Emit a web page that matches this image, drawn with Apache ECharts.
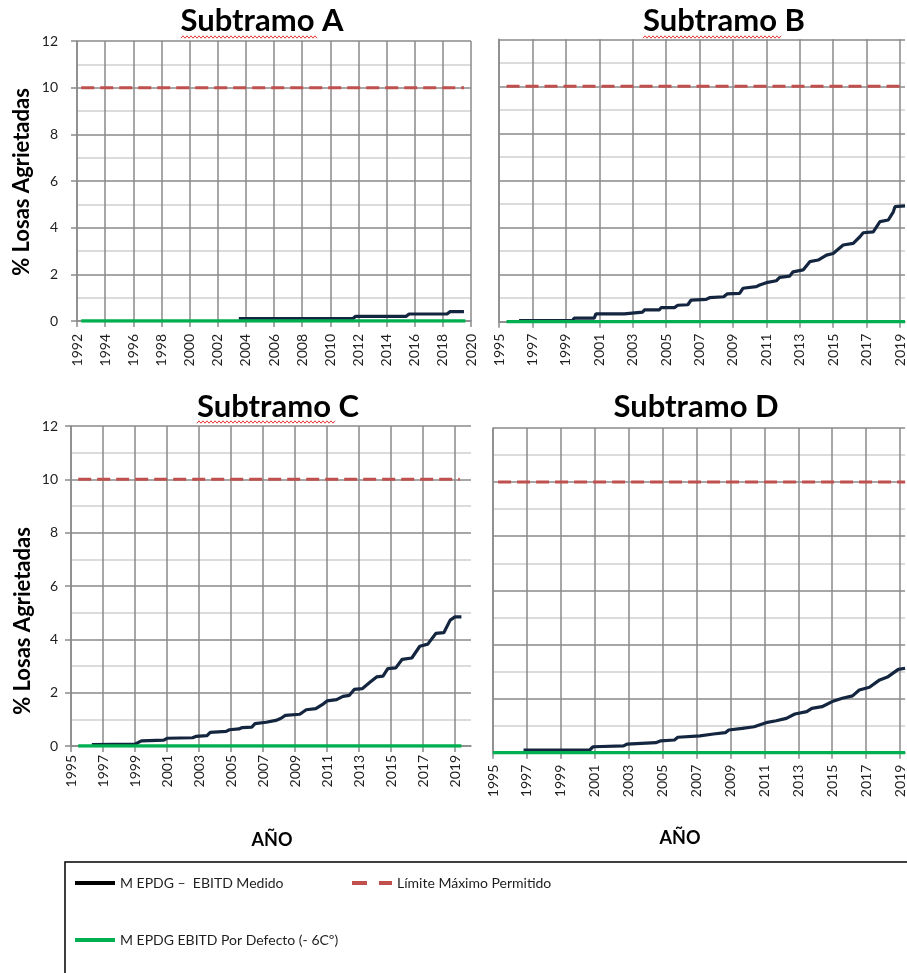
<!DOCTYPE html>
<html>
<head>
<meta charset="utf-8">
<script src="https://cdn.jsdelivr.net/npm/echarts@6/dist/echarts.min.js"></script>
<style>
  html, body { margin: 0; padding: 0; background: #ffffff; }
  #chart { width: 907px; height: 973px; }
</style>
</head>
<body>
<div id="chart"></div>
<script>
// ---- text ----
const panelTitles = ['Subtramo A', 'Subtramo B', 'Subtramo C', 'Subtramo D'];
const nameMedido = 'M EPDG –  EBITD Medido';
const nameDefecto = 'M EPDG EBITD Por Defecto (- 6Cº)';
const nameLimite = 'Límite Máximo Permitido';
const yAxisTitle = '% Losas Agrietadas';
const xAxisTitle = 'AÑO';

// ---- axis ranges (years / % of cracked slabs) ----
const yMin = 0, yMax = 12, yStep = 2;
const yearRangeA = [1992, 2020];
const yearRangeB = [1995, 2019.3];
const yearRangeC = [1995, 2020];
const yearRangeD = [1995, 2019.3];
const yearStep = 2;

// ---- reference levels ----
const limiteValue = 10;   // maximum allowed % of cracked slabs
const defectoValue = 0;   // default-input prediction stays at zero

// years covered by the flat reference lines in each panel
const defectoSpanA = [1992.3, 2019.6];
const limiteSpanA = [1992.3, 2019.5];
const defectoSpanB = [1995.45, 2019.3];
const limiteSpanB = [1995.45, 2019.3];
const defectoSpanC = [1995.45, 2019.4];
const limiteSpanC = [1995.45, 2019.3];
const defectoSpanD = [1995.0, 2019.3];
const limiteSpanD = [1995.3, 2019.3];

// ---- measured-input predictions: [year, % cracked slabs] ----
const medidoA = [
  [2003.5, 0.1], [2011.6, 0.1], [2011.8, 0.2], [2015.4, 0.2], [2015.6, 0.3],
  [2018.3, 0.3], [2018.5, 0.4], [2019.5, 0.4]
];
const medidoB = [
  [1996.2, 0.05], [1999.4, 0.05], [1999.5, 0.15], [2000.7, 0.15], [2000.8, 0.33],
  [2002.5, 0.33], [2002.6, 0.41], [2003.6, 0.41], [2003.7, 0.5], [2004.6, 0.5],
  [2004.7, 0.6], [2005.5, 0.6], [2005.7, 0.7], [2006.3, 0.72], [2006.5, 0.92],
  [2007.4, 0.95], [2007.6, 1.02], [2008.45, 1.06], [2008.65, 1.18], [2009.4, 1.2],
  [2009.6, 1.42], [2010.4, 1.49], [2010.6, 1.56], [2011.0, 1.66], [2011.6, 1.74],
  [2011.8, 1.88], [2012.4, 1.94], [2012.6, 2.12], [2013.2, 2.2], [2013.6, 2.55],
  [2014.1, 2.62], [2014.6, 2.83], [2015.0, 2.9], [2015.6, 3.26], [2016.2, 3.33],
  [2016.6, 3.61], [2016.8, 3.78], [2017.4, 3.82], [2017.8, 4.25], [2018.3, 4.32],
  [2018.6, 4.67], [2018.7, 4.89], [2019.3, 4.92]
];
const medidoC = [
  [1996.3, 0.05], [1999.0, 0.07], [1999.4, 0.19], [2000.8, 0.22], [2001.0, 0.29],
  [2002.6, 0.31], [2002.8, 0.36], [2003.5, 0.39], [2003.7, 0.51], [2004.7, 0.55],
  [2004.9, 0.61], [2005.5, 0.64], [2005.7, 0.69], [2006.3, 0.71], [2006.5, 0.84],
  [2007.2, 0.89], [2007.8, 0.96], [2008.1, 1.03], [2008.4, 1.15], [2009.3, 1.19],
  [2009.7, 1.36], [2010.3, 1.4], [2010.8, 1.59], [2011.0, 1.69], [2011.6, 1.74],
  [2012.0, 1.86], [2012.4, 1.9], [2012.7, 2.12], [2013.2, 2.15], [2013.7, 2.4],
  [2014.1, 2.59], [2014.5, 2.62], [2014.8, 2.9], [2015.3, 2.93], [2015.7, 3.25],
  [2016.3, 3.3], [2016.8, 3.74], [2017.3, 3.82], [2017.8, 4.22], [2018.3, 4.25],
  [2018.7, 4.72], [2019.0, 4.84], [2019.4, 4.84]
];
const medidoD = [
  [1996.8, 0.1], [2000.7, 0.1], [2000.9, 0.22], [2002.7, 0.25], [2002.9, 0.32],
  [2004.6, 0.37], [2004.9, 0.44], [2005.7, 0.47], [2005.9, 0.57], [2007.2, 0.62],
  [2008.0, 0.69], [2008.7, 0.74], [2008.9, 0.84], [2009.7, 0.9], [2010.4, 0.96],
  [2011.1, 1.11], [2011.7, 1.18], [2012.3, 1.27], [2012.8, 1.43], [2013.5, 1.52],
  [2013.8, 1.64], [2014.4, 1.7], [2015.0, 1.89], [2015.6, 2.01], [2016.2, 2.1],
  [2016.6, 2.32], [2017.2, 2.42], [2017.8, 2.69], [2018.3, 2.81], [2018.9, 3.08],
  [2019.3, 3.12]
];

// ---- styling ----
const FONT = 'Lato, "Open Sans", "Liberation Sans", sans-serif';
const colMedido = '#14263f';
const colDefecto = '#00b050';
const colLimite = '#c0504d';
const colMajor = '#8a8a8a';
const colMinor = '#cfcfcf';

const panels = [
  { grid: { left: 77, top: 41, width: 394, height: 280 }, years: yearRangeA, yLabels: true,
    xMargin: 13, yMargin: 19, medido: medidoA, defecto: defectoSpanA, limite: limiteSpanA },
  { grid: { left: 499, top: 39.3, width: 408, height: 282.4 }, years: yearRangeB, yLabels: false,
    xMargin: 12, yMargin: 12, medido: medidoB, defecto: defectoSpanB, limite: limiteSpanB },
  { grid: { left: 71, top: 426, width: 400, height: 320 }, years: yearRangeC, yLabels: true,
    xMargin: 9, yMargin: 13, medido: medidoC, defecto: defectoSpanC, limite: limiteSpanC },
  { grid: { left: 493, top: 428, width: 414, height: 324.7 }, years: yearRangeD, yLabels: false,
    xMargin: 12, yMargin: 12, medido: medidoD, defecto: defectoSpanD, limite: limiteSpanD }
];

const grids = [], xAxes = [], yAxes = [], series = [];
panels.forEach((p, i) => {
  grids.push(Object.assign({ containLabel: false }, p.grid));
  xAxes.push({
    type: 'value', gridIndex: i, min: p.years[0], max: p.years[1], interval: yearStep,
    axisLine: { show: true, onZero: false, lineStyle: { color: colMajor, width: 1.5 } },
    axisTick: { show: true, length: 6, lineStyle: { color: colMajor, width: 1.5 } },
    axisLabel: {
      rotate: 90, margin: p.xMargin, fontFamily: FONT, fontSize: 14, color: '#1e1e1e',
      showMaxLabel: p.years[1] % 1 === 0 && (p.years[1] - p.years[0]) % yearStep === 0,
      formatter: v => (Number.isInteger(v) ? String(v) : '')
    },
    splitLine: {
      show: true, showMinLine: true,
      showMaxLine: (p.years[1] - p.years[0]) % yearStep === 0,
      lineStyle: { color: colMajor, width: 1.5 }
    }
  });
  yAxes.push({
    type: 'value', gridIndex: i, min: yMin, max: yMax, interval: yStep,
    axisLine: { show: true, lineStyle: { color: colMajor, width: 1.5 } },
    axisTick: { show: p.yLabels, length: 6, lineStyle: { color: colMajor, width: 1.5 } },
    axisLabel: { show: p.yLabels, margin: p.yMargin, fontFamily: FONT, fontSize: 14, color: '#1e1e1e' },
    splitLine: { show: true, lineStyle: { color: colMajor, width: 1.5 } },
    minorTick: { show: false, splitNumber: 2 },
    minorSplitLine: { show: true, lineStyle: { color: colMinor, width: 1.5 } }
  });
  series.push({
    name: nameMedido, type: 'line', xAxisIndex: i, yAxisIndex: i,
    data: p.medido, showSymbol: false, symbol: 'none',
    lineStyle: { color: colMedido, width: 3.2 }, itemStyle: { color: colMedido }, z: 3
  });
  series.push({
    name: nameDefecto, type: 'line', xAxisIndex: i, yAxisIndex: i,
    data: p.defecto.map(x => [x, defectoValue]), showSymbol: false, symbol: 'none',
    lineStyle: { color: colDefecto, width: 3.5 }, itemStyle: { color: colDefecto }, z: 4
  });
  series.push({
    name: nameLimite, type: 'line', xAxisIndex: i, yAxisIndex: i,
    data: p.limite.map(x => [x, limiteValue]), showSymbol: false, symbol: 'none',
    lineStyle: { color: colLimite, width: 3, type: [13, 6] }, itemStyle: { color: colLimite }, z: 4
  });
});

// spell-check style wavy underline under a word
function squiggle(x0, x1, y) {
  const pts = [];
  for (let x = x0, k = 0; x <= x1; x += 2, k++) pts.push([x, y + (k % 2 ? -1.2 : 1.2)]);
  return { type: 'polyline', shape: { points: pts }, style: { stroke: '#e23a3a', lineWidth: 1, fill: null }, silent: true };
}

const titleFont = 'bold 31px ' + FONT;
const nameFont = 'bold 22px ' + FONT;
const txt = (x, y, text, font, rot) => ({
  type: 'text', x: x, y: y, rotation: rot || 0,
  style: { text: text, font: font, fill: '#000', align: 'center', verticalAlign: 'middle' }
});
const graphics = [
  txt(262, 21, panelTitles[0], titleFont),
  txt(724, 21, panelTitles[1], titleFont),
  txt(278, 407, panelTitles[2], titleFont),
  txt(696, 407, panelTitles[3], titleFont),
  squiggle(181, 318, 37), squiggle(643, 782, 37), squiggle(197, 335, 422),
  txt(22, 182, yAxisTitle, nameFont, Math.PI / 2),
  txt(23, 621, yAxisTitle, nameFont, Math.PI / 2),
  txt(272, 840, xAxisTitle, 'bold 18px ' + FONT),
  txt(680, 838, xAxisTitle, 'bold 18px ' + FONT),
  { type: 'rect', shape: { x: 65, y: 862, width: 900, height: 200 }, style: { fill: null, stroke: '#000', lineWidth: 1.5 }, silent: true }
];

const legendText = { fontFamily: FONT, fontSize: 14, color: '#1e1e1e' };
const solidIcon = 'path://M0,0H40V4H0Z';
const dashIcon = 'path://M0,0H15V4H0Z M27,0H40V4H27Z';
const legends = [
  { left: 75, top: 876, padding: 0, itemWidth: 40, itemHeight: 4, textStyle: legendText,
    data: [{ name: nameMedido, icon: solidIcon, itemStyle: { color: '#000' } }] },
  { left: 352, top: 876, padding: 0, itemWidth: 40, itemHeight: 4, textStyle: legendText,
    data: [{ name: nameLimite, icon: dashIcon, itemStyle: { color: colLimite } }] },
  { left: 75, top: 933, padding: 0, itemWidth: 40, itemHeight: 4, textStyle: legendText,
    data: [{ name: nameDefecto, icon: solidIcon, itemStyle: { color: colDefecto } }] }
];

const chart = echarts.init(document.getElementById('chart'), null, { renderer: 'canvas' });
chart.setOption({
  animation: false,
  backgroundColor: '#ffffff',
  grid: grids,
  xAxis: xAxes,
  yAxis: yAxes,
  series: series,
  legend: legends,
  graphic: graphics
});
</script>
</body>
</html>
